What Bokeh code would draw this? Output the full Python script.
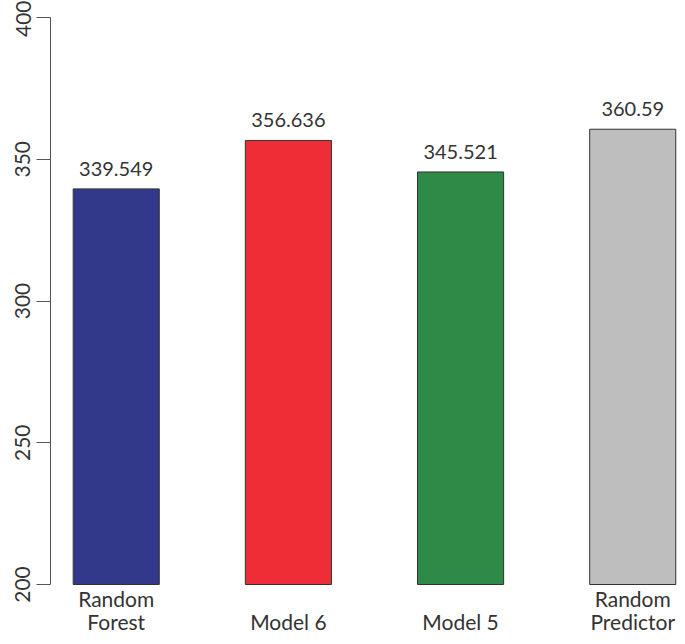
from bokeh.plotting import figure
from bokeh.models import Range1d, FixedTicker, ColumnDataSource
from bokeh.core.properties import value
from bokeh.embed import file_html
from bokeh.resources import INLINE

# ---- data ----
categories = ["Random\nForest", "Model 6", "Model 5", "Random\nPredictor"]
scores = [339.549, 356.636, 345.521, 360.59]
score_labels = ["339.549", "356.636", "345.521", "360.59"]
colors = ["#33398A", "#EE2D36", "#2E8B47", "#BEBEBE"]
y_ticks = [200, 250, 300, 350, 400]
baseline = 200

FONT = "Lato"
TXT = "#333333"

xs = [1.5 + 2 * i for i in range(len(categories))]
line1 = [c.split("\n")[0] if "\n" in c else "" for c in categories]
line2 = [c.split("\n")[-1] for c in categories]

src = ColumnDataSource(dict(x=xs, top=scores, bottom=[baseline] * len(scores),
                            color=colors, lab=score_labels,
                            l1=line1, l2=line2, yb=[baseline] * len(scores)))

p = figure(width=677, height=636, output_backend="svg", toolbar_location=None,
           x_range=Range1d(0.7364, 8.02), y_range=Range1d(181.66, 406.0),
           x_axis_location=None, min_border_top=0, min_border_bottom=0,
           min_border_right=0, min_border_left=50)
p.outline_line_color = None
p.xgrid.visible = False
p.ygrid.visible = False
p.background_fill_color = "white"

p.vbar(x="x", top="top", bottom="bottom", width=1.0, fill_color="color",
       line_color="#333333", line_width=1, source=src)

p.text(x="x", y="top", text="lab", source=src, text_align="center",
       text_baseline="middle", y_offset=-20, text_font=value(FONT),
       text_font_size="20px", text_color=TXT)

p.text(x="x", y="yb", text="l1", source=src, text_align="center",
       text_baseline="middle", y_offset=14, text_font=value(FONT),
       text_font_size="21px", text_color=TXT)
p.text(x="x", y="yb", text="l2", source=src, text_align="center",
       text_baseline="middle", y_offset=37, text_font=value(FONT),
       text_font_size="21px", text_color=TXT)

ax = p.yaxis[0]
ax.ticker = FixedTicker(ticks=y_ticks)
ax.bounds = (200, 400)
ax.major_label_orientation = "vertical"
ax.major_tick_out = 14
ax.major_tick_in = 0
ax.minor_tick_line_color = None
ax.axis_line_color = "#555555"
ax.major_tick_line_color = "#555555"
ax.major_label_text_font = FONT
ax.major_label_text_font_size = "21px"
ax.major_label_text_color = TXT
ax.major_label_standoff = 6

open("out.html", "w").write(file_html(p, INLINE))
